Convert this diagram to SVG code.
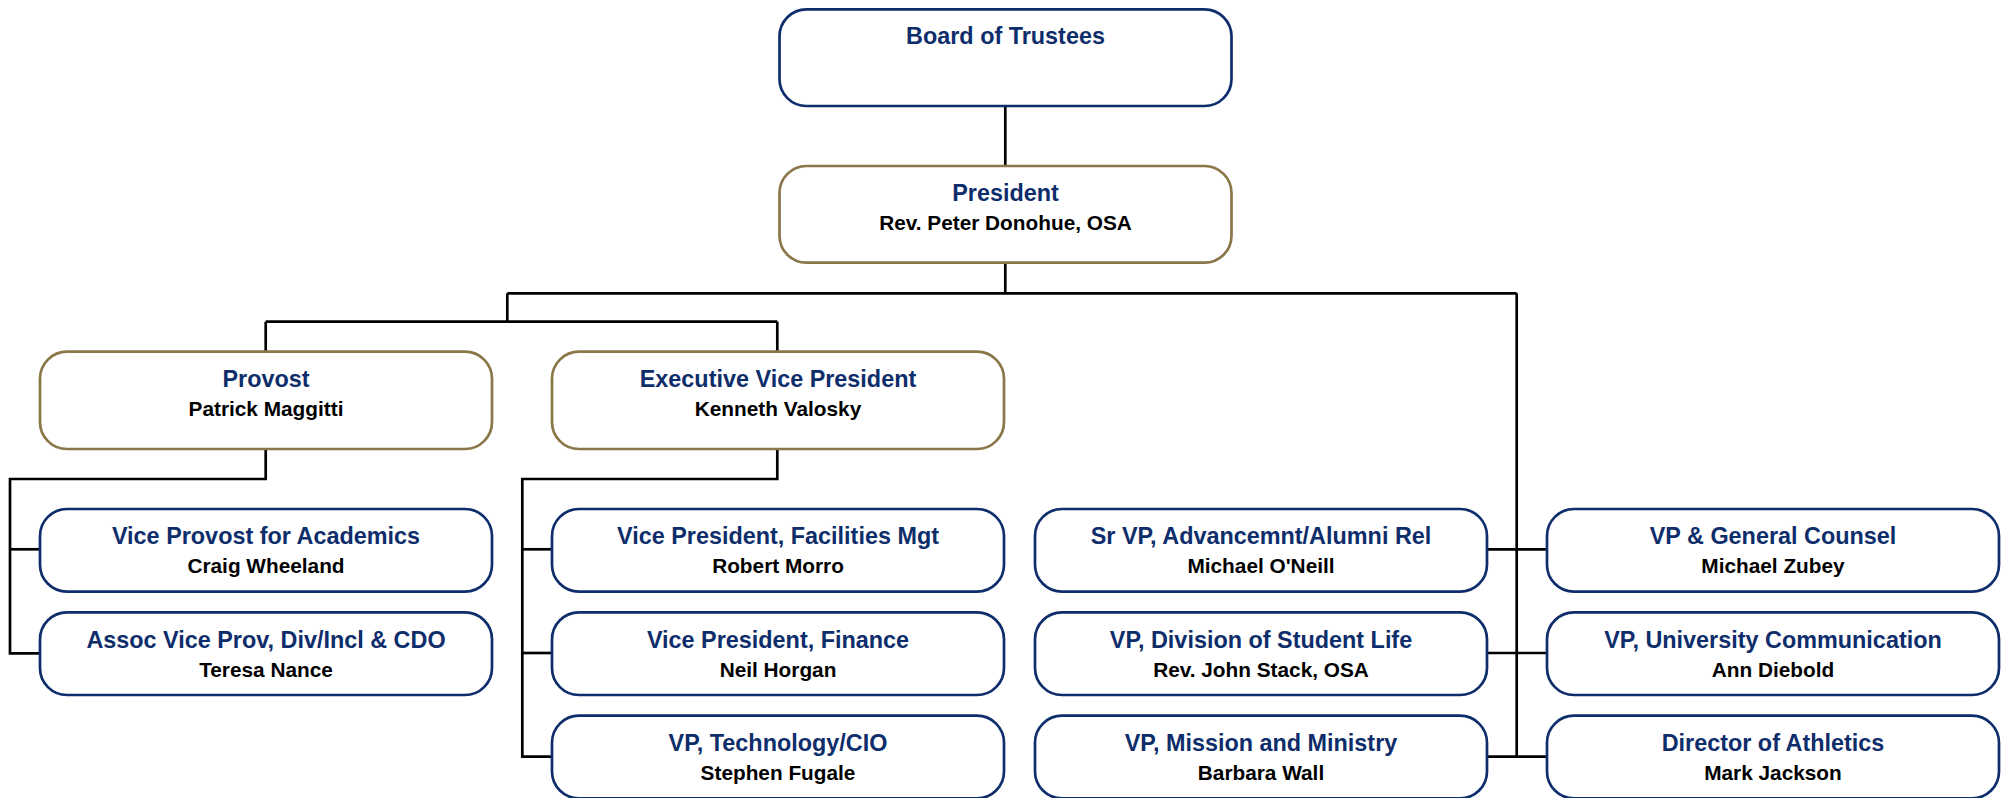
<svg xmlns="http://www.w3.org/2000/svg" width="2007" height="798" viewBox="0 0 2007 798">
  <style>
    .box { fill: #ffffff; stroke-width: 2.7; }
    .navy { stroke: #0e2d6b; }
    .gold { stroke: #8a7649; }
    .title { font-family: "Liberation Sans", Arial, sans-serif; font-weight: bold; font-size: 23.4px; fill: #0e2d6b; text-anchor: middle; }
    .name { font-family: "Liberation Sans", Arial, sans-serif; font-weight: bold; font-size: 20.8px; fill: #000000; text-anchor: middle; }
    .link { fill: none; stroke: #000000; stroke-width: 2.7; }
  </style>
  <rect width="2007" height="798" fill="#ffffff"/>

  <!-- reporting lines -->
  <g id="connectors">
    <path class="link" d="M1005.3 106 V166"/>
    <path class="link" d="M1005.3 262.7 V293.3"/>
    <path class="link" d="M507.3 293.3 H1516.7"/>
    <path class="link" d="M507.3 293.3 V321.7"/>
    <path class="link" d="M265.7 321.7 H777.3"/>
    <path class="link" d="M265.7 321.7 V351.7"/>
    <path class="link" d="M777.3 321.7 V351.7"/>
    <!-- Provost branch -->
    <path class="link" d="M265.7 449 V479 H10 V653.3 H40"/>
    <path class="link" d="M10 549.3 H40"/>
    <!-- Executive VP branch -->
    <path class="link" d="M777.3 449 V479 H522.3 V756.7 H552"/>
    <path class="link" d="M522.3 549.3 H552"/>
    <path class="link" d="M522.3 653 H552"/>
    <!-- direct reports to the President -->
    <path class="link" d="M1516.7 293.3 V756.7"/>
    <path class="link" d="M1487 549.3 H1547"/>
    <path class="link" d="M1487 653 H1547"/>
    <path class="link" d="M1487 756.7 H1547"/>
  </g>

  <g id="board">
    <rect class="box navy" x="779.5" y="9.3" width="452" height="96.7" rx="27"/>
    <text class="title" x="1005.5" y="43.7">Board of Trustees</text>
  </g>

  <g id="president">
    <rect class="box gold" x="779.5" y="166" width="452" height="96.7" rx="27"/>
    <text class="title" x="1005.5" y="200.8">President</text>
    <text class="name" x="1005.5" y="229.5">Rev. Peter Donohue, OSA</text>
  </g>

  <g id="provost">
    <rect class="box gold" x="40" y="351.7" width="452" height="97.3" rx="27"/>
    <text class="title" x="266" y="387.3">Provost</text>
    <text class="name" x="266" y="416">Patrick Maggitti</text>
  </g>

  <g id="evp">
    <rect class="box gold" x="552" y="351.7" width="452" height="97.3" rx="27"/>
    <text class="title" x="778" y="387.3">Executive Vice President</text>
    <text class="name" x="778" y="416">Kenneth Valosky</text>
  </g>

  <g id="vice-provost">
    <rect class="box navy" x="40" y="509" width="452" height="82.7" rx="27"/>
    <text class="title" x="266" y="544.3">Vice Provost for Academics</text>
    <text class="name" x="266" y="573.3">Craig Wheeland</text>
  </g>

  <g id="assoc-vice-provost">
    <rect class="box navy" x="40" y="612.3" width="452" height="82.7" rx="27"/>
    <text class="title" x="266" y="647.6">Assoc Vice Prov, Div/Incl &amp; CDO</text>
    <text class="name" x="266" y="676.6">Teresa Nance</text>
  </g>

  <g id="vp-facilities">
    <rect class="box navy" x="552" y="509" width="452" height="82.7" rx="27"/>
    <text class="title" x="778" y="544.3">Vice President, Facilities Mgt</text>
    <text class="name" x="778" y="573.3">Robert Morro</text>
  </g>

  <g id="vp-finance">
    <rect class="box navy" x="552" y="612.3" width="452" height="82.7" rx="27"/>
    <text class="title" x="778" y="647.6">Vice President, Finance</text>
    <text class="name" x="778" y="676.6">Neil Horgan</text>
  </g>

  <g id="vp-technology">
    <rect class="box navy" x="552" y="715.7" width="452" height="82.7" rx="27"/>
    <text class="title" x="778" y="751">VP, Technology/CIO</text>
    <text class="name" x="778" y="780">Stephen Fugale</text>
  </g>

  <g id="vp-advancement">
    <rect class="box navy" x="1035" y="509" width="452" height="82.7" rx="27"/>
    <text class="title" x="1261" y="544.3">Sr VP, Advancemnt/Alumni Rel</text>
    <text class="name" x="1261" y="573.3">Michael O'Neill</text>
  </g>

  <g id="vp-student-life">
    <rect class="box navy" x="1035" y="612.3" width="452" height="82.7" rx="27"/>
    <text class="title" x="1261" y="647.6">VP, Division of Student Life</text>
    <text class="name" x="1261" y="676.6">Rev. John Stack, OSA</text>
  </g>

  <g id="vp-mission">
    <rect class="box navy" x="1035" y="715.7" width="452" height="82.7" rx="27"/>
    <text class="title" x="1261" y="751">VP, Mission and Ministry</text>
    <text class="name" x="1261" y="780">Barbara Wall</text>
  </g>

  <g id="general-counsel">
    <rect class="box navy" x="1547" y="509" width="452" height="82.7" rx="27"/>
    <text class="title" x="1773" y="544.3">VP &amp; General Counsel</text>
    <text class="name" x="1773" y="573.3">Michael Zubey</text>
  </g>

  <g id="vp-communication">
    <rect class="box navy" x="1547" y="612.3" width="452" height="82.7" rx="27"/>
    <text class="title" x="1773" y="647.6">VP, University Communication</text>
    <text class="name" x="1773" y="676.6">Ann Diebold</text>
  </g>

  <g id="athletics">
    <rect class="box navy" x="1547" y="715.7" width="452" height="82.7" rx="27"/>
    <text class="title" x="1773" y="751">Director of Athletics</text>
    <text class="name" x="1773" y="780">Mark Jackson</text>
  </g>
</svg>
